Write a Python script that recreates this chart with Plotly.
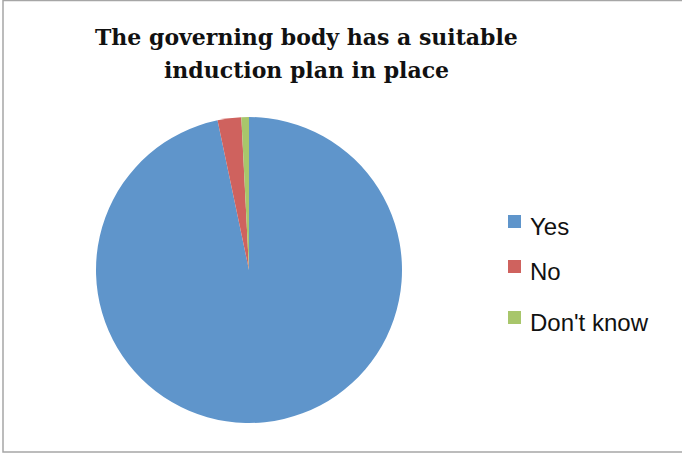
import plotly.graph_objects as go

# Survey responses
labels = ["Yes", "No", "Don't know"]
values = [96.7, 2.5, 0.8]
colors = ["#5f95cb", "#cf625e", "#a8c66b"]

title_lines = ["The governing body has a suitable", "induction plan in place"]

W, H = 682, 454

fig = go.Figure()
fig.add_trace(go.Pie(
    labels=labels,
    values=values,
    sort=False,
    direction="clockwise",
    rotation=0,
    marker=dict(colors=colors, line=dict(width=0)),
    textinfo="none",
    hoverinfo="label+percent",
    showlegend=False,
    domain=dict(x=[96 / W, 402 / W], y=[1 - 423 / H, 1 - 117 / H]),
))

# Legend drawn as square swatches with text labels
legend_y = [226, 271, 322]
shapes = []
annotations = []
for lab, col, yc in zip(labels, colors, legend_y):
    shapes.append(dict(
        type="rect", xref="paper", yref="paper",
        x0=508 / W, x1=521 / W,
        y0=1 - (yc + 2) / H, y1=1 - (yc - 11) / H,
        fillcolor=col, line=dict(width=0),
    ))
    annotations.append(dict(
        text=lab, xref="paper", yref="paper",
        x=528 / W, y=1 - yc / H, xanchor="left", yanchor="middle",
        showarrow=False,
        font=dict(family="Liberation Sans, Arial, sans-serif", size=24, color="#111111"),
    ))

# Outer frame
shapes.append(dict(
    type="rect", xref="paper", yref="paper",
    x0=3 / W, x1=1.01, y0=1 - 452 / H, y1=1 - 0.5 / H,
    line=dict(color="#a6a6a6", width=1.5), fillcolor="rgba(0,0,0,0)",
))

# Two-line bold title
for line, yc in zip(title_lines, [37, 70]):
    annotations.append(dict(
        text="<b>" + line + "</b>",
        xref="paper", yref="paper", x=306 / W, y=1 - yc / H,
        xanchor="center", yanchor="middle", showarrow=False,
        font=dict(family="DejaVu Serif, Liberation Serif, serif", size=22, color="#111111"),
    ))

fig.update_layout(
    width=W, height=H,
    margin=dict(l=0, r=0, t=0, b=0),
    paper_bgcolor="white",
    plot_bgcolor="white",
    shapes=shapes,
    annotations=annotations,
)

fig.write_html("out.html")
